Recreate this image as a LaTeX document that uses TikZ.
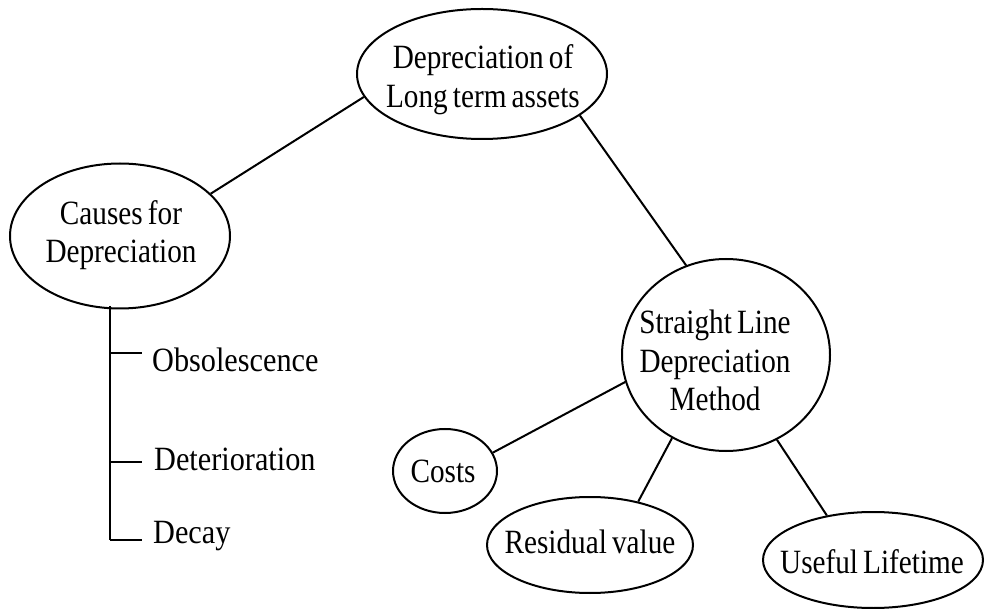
\documentclass[tikz,border=0pt]{standalone}
\usepackage{fontspec}
\usetikzlibrary{shapes.geometric}
\newfontfamily\lblfont{Liberation Serif}[FakeStretch=0.86,WordSpace=0.7]
\newfontfamily\itemfont{Liberation Serif}[FakeStretch=0.89,WordSpace=0.7]
\begin{document}
\begin{tikzpicture}[x=1pt,y=-1pt,
  bubble/.style={draw,ellipse,line width=2pt,inner sep=0pt},
  label text/.style={font=\lblfont\fontsize{34}{38.5}\selectfont,align=center,inner sep=0pt},
  item text/.style={font=\itemfont\fontsize{34}{38.5}\selectfont,inner sep=0pt,anchor=base west},
  link/.style={line width=2pt}]
\useasboundingbox (0,0) rectangle (985,609);

% outlines
\node[bubble,minimum width=250pt,minimum height=130pt] (top) at (482,74) {};
\node[bubble,minimum width=220pt,minimum height=145pt] (causes) at (120,236) {};
\node[bubble,minimum width=208pt,minimum height=192pt] (slm) at (726,355) {};
\node[bubble,minimum width=104pt,minimum height=84pt] (costs) at (445,471) {};
\node[bubble,minimum width=206pt,minimum height=96pt] (resid) at (590,545) {};
\node[bubble,minimum width=220pt,minimum height=96pt] (life) at (873,560) {};

% captions
\node[label text] (toptxt) at (483,79.5) {Depreciation of\\Long term assets};
\node[label text] (causestxt) at (121,235) {Causes for\\Depreciation};
\node[label text] (slmtxt) at (715,360.5) {Straight Line\\Depreciation\\Method};
\node[label text] (coststxt) at (443,471) {Costs};
\node[label text] (residtxt) at (590,542) {Residual value};
\node[label text] (lifetxt) at (872,562) {Useful Lifetime};

% list of causes
\node[item text] (obs) at (152,371) {Obsolescence};
\node[item text] (det) at (154,470) {Deterioration};
\node[item text] (dec) at (153,543) {Decay};

% connectors
\draw[link] (top.191.4) -- (causes.25.3);
\draw[link] (top.337.9) -- (slm.114.5);
\draw[link] (slm.195) -- (costs.21.6);
\draw[link] (slm.237.9) -- (resid.42);
\draw[link] (slm.301.6) -- (life.136.2);

% bracket under the causes
\coordinate (trunktop) at (110,306);
\coordinate (trunkbot) at (110,540);
\coordinate (tickobs) at (110,353);
\coordinate (tickdet) at (110,462);
\draw[link] (trunktop) -- (trunkbot);
\draw[link] (tickobs) -- ++(32,0);
\draw[link] (tickdet) -- ++(32,0);
\draw[link] (trunkbot) -- ++(32,0);
\end{tikzpicture}
\end{document}
